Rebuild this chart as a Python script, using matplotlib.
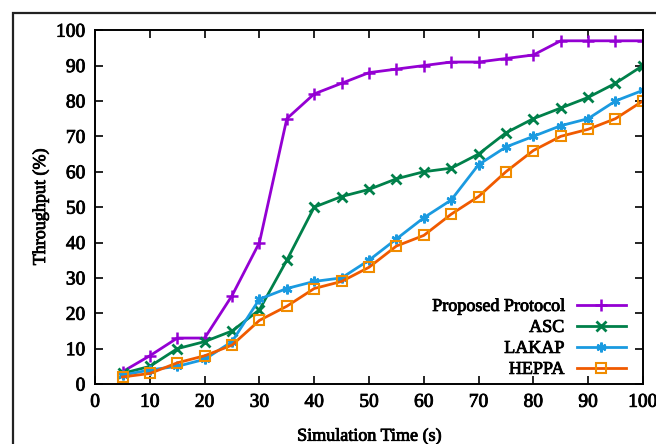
import numpy as np
import matplotlib.pyplot as plt
import matplotlib.patheffects as pe
from matplotlib.patches import Rectangle


plt.rcParams['font.family'] = ['Liberation Serif', 'DejaVu Serif']

time_s = [5, 10, 15, 20, 25, 30, 35, 40, 45, 50, 55, 60, 65, 70, 75, 80, 85, 90, 95, 100]
proposed = [3.5, 8, 13, 13, 25, 40, 75, 82, 85, 88, 89, 90, 91, 91, 92, 93, 97, 97, 97, 97]
asc = [3, 5, 10, 12, 15, 21, 35, 50, 53, 55, 58, 60, 61, 65, 71, 75, 78, 81, 85, 90]
lakap = [2.5, 4, 5, 7, 12, 24, 27, 29, 30, 35, 41, 47, 52, 62, 67, 70, 73, 75, 80, 83]
heppa = [2, 3, 6, 8, 11, 18, 22, 27, 29, 33, 39, 42, 48, 53, 60, 66, 70, 72, 75, 80]

x_ticks = [0, 10, 20, 30, 40, 50, 60, 70, 80, 90, 100]
y_ticks = [0, 10, 20, 30, 40, 50, 60, 70, 80, 90, 100]


def main():
	fig = plt.figure(figsize=(6.56, 4.44), dpi=100)
	ax = fig.add_axes([0.145, 0.135, 0.835, 0.797])

	# outer frame of the figure (clipped on the right and bottom)
	fig.patches.append(Rectangle((0.02, -0.2), 1.2, 1.1707, transform=fig.transFigure,
		fill=False, lw=1.6, edgecolor='#222222'))

	ax.plot(time_s, proposed, color='#9400D3', lw=2, marker='+', ms=9, mew=1.8,
		label='Proposed Protocol')
	ax.plot(time_s, asc, color='#00804A', lw=2, marker='x', ms=7, mew=2,
		label='ASC')
	ax.plot(time_s, lakap, color='#1A9AE0', lw=2, marker=(6, 2, 0), ms=7, mew=1.8,
		label='LAKAP')
	ax.plot(time_s, heppa, color='#F05A00', lw=2, marker='s', ms=6.5, mew=1.5,
		mfc='none', mec='#F08C00', label='HEPPA')

	ax.set_xlim(0, 100)
	ax.set_ylim(0, 100)
	ax.set_xticks(x_ticks)
	ax.set_yticks(y_ticks)
	ax.tick_params(direction='in', length=6, width=1.2, top=True, right=True,
		labelsize=14, pad=7)
	for s in ax.spines.values():
		s.set_linewidth(1.4)

	ax.set_xlabel('Simulation Time (s)', fontsize=13, labelpad=12)
	ax.set_ylabel('Throughput (%)', fontsize=13, labelpad=5)

	leg = ax.legend(loc='lower right', bbox_to_anchor=(0.985, -0.008), frameon=False,
		markerfirst=False, fontsize=13, handlelength=2.7, labelspacing=0.22,
		handletextpad=0.7, borderaxespad=0.1)

	# thicken the text a bit, the scanned original looks heavy
	bold = [pe.withStroke(linewidth=0.6, foreground='black')]
	texts = ax.get_xticklabels() + ax.get_yticklabels() + leg.get_texts()
	texts += [ax.xaxis.label, ax.yaxis.label]
	for t in texts:
		t.set_path_effects(bold)

	fig.savefig('out.png', dpi=100)


if __name__ == '__main__':
	main()
